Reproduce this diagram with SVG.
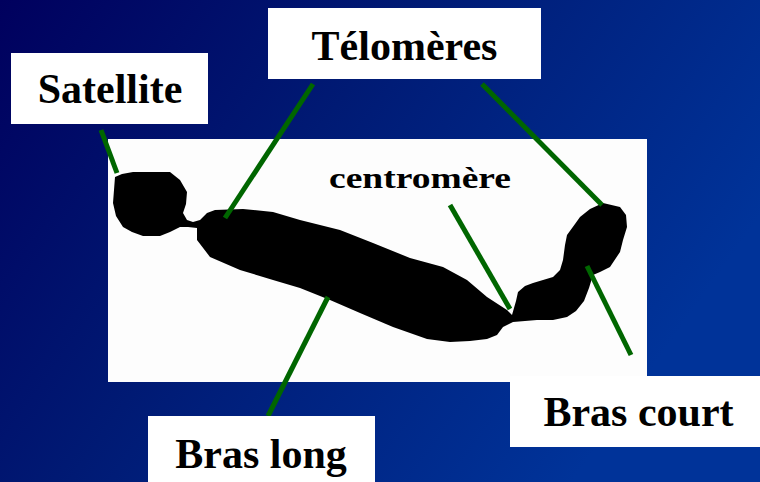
<svg xmlns="http://www.w3.org/2000/svg" width="760" height="482" viewBox="0 0 760 482">
  <defs>
    <linearGradient id="bg" x1="0" y1="0" x2="1" y2="0.45">
      <stop offset="0" stop-color="#00005e"/>
      <stop offset="0.45" stop-color="#001a74"/>
      <stop offset="1" stop-color="#003399"/>
    </linearGradient>
    <style>
      .box { fill: #ffffff; }
      .label { font-family: "Liberation Serif", "Times New Roman", serif; font-weight: bold; font-size: 42px; fill: #000000; text-anchor: middle; }
      .small { font-size: 30px; }
      .lead { stroke: #006600; stroke-width: 5; stroke-linecap: butt; fill: none; }
    </style>
  </defs>

  <!-- backdrop -->
  <rect x="0" y="0" width="760" height="482" fill="url(#bg)"/>

  <!-- photo panel with the chromosome silhouette -->
  <g id="chromosome">
    <rect x="108" y="139" width="539" height="243" fill="#fdfdfd"/>
    <path fill="#000000" d="
      M115,177 L122,174 L133,172 L170,172 L180,180 L187,192 L186,204 L183,213
      L187,220 L193,222 L200,220 L207,213 L215,210 L243,209 L273,212 L300,220
      L340,230 L373,243 L410,258 L443,267 L467,280 L487,297 L507,310 L512,315
      L516,301 L518,292 L525,286 L533,283 L553,277 L560,270 L563,260 L565,245
      L567,235 L575,224 L580,217 L590,209 L603,203 L620,207 L626,215 L627,227
      L623,240 L620,252 L610,267 L600,272 L593,275 L589,288 L584,301 L576,311
      L567,317 L553,320 L537,320 L513,322 L503,327 L497,335 L487,339 L470,341
      L450,342 L427,339 L393,327 L360,313 L330,300 L300,288 L273,280 L240,270
      L210,257 L197,240 L197,228 L188,227 L180,227 L170,232 L160,236 L143,236
      L132,232 L123,227 L116,216 L113,203 Z"/>
  </g>

  <!-- leader lines -->
  <g id="connectors">
    <line class="lead" x1="101" y1="130" x2="117" y2="173"/>
    <line class="lead" x1="313" y1="84" x2="225" y2="218"/>
    <line class="lead" x1="482" y1="84" x2="602" y2="205"/>
    <line class="lead" x1="450" y1="205" x2="510" y2="309"/>
    <line class="lead" x1="587" y1="266" x2="631" y2="355"/>
    <line class="lead" x1="328" y1="297" x2="268" y2="416"/>
  </g>

  <g id="satellite">
    <rect class="box" x="11" y="53" width="197" height="71"/>
    <text class="label" x="110" y="103">Satellite</text>
  </g>

  <g id="telomeres">
    <rect class="box" x="268" y="8" width="273" height="71"/>
    <text class="label" x="404.5" y="60">Télomères</text>
  </g>

  <g id="centromere">
    <text class="label small" x="420" y="188" textLength="182" lengthAdjust="spacingAndGlyphs">centromère</text>
  </g>

  <g id="bras-court">
    <rect class="box" x="510" y="376" width="250" height="71"/>
    <text class="label" x="638.5" y="426">Bras court</text>
  </g>

  <g id="bras-long">
    <rect class="box" x="148" y="416" width="227" height="66"/>
    <text class="label" x="261" y="468">Bras long</text>
  </g>
</svg>
